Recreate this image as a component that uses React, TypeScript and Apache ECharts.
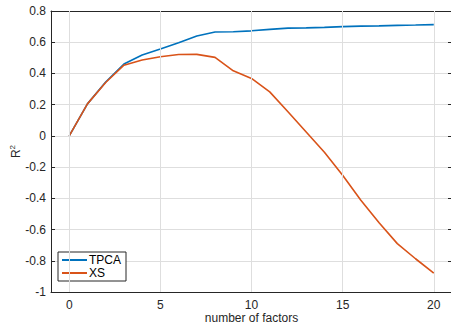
import React, { useEffect, useRef } from "react";
import * as echarts from "echarts";

const factors = [0, 1, 2, 3, 4, 5, 6, 7, 8, 9, 10, 11, 12, 13, 14, 15, 16, 17, 18, 19, 20];
const tpca = [0, 0.205, 0.345, 0.46, 0.518, 0.556, 0.597, 0.64, 0.665, 0.667, 0.673, 0.682, 0.69, 0.692, 0.695, 0.7, 0.703, 0.705, 0.708, 0.71, 0.713];
const xs = [0, 0.205, 0.342, 0.453, 0.486, 0.507, 0.521, 0.522, 0.503, 0.417, 0.368, 0.282, 0.155, 0.025, -0.105, -0.252, -0.412, -0.556, -0.69, -0.787, -0.879];
const xTicks = [0, 5, 10, 15, 20];
const seriesNames = ["TPCA", "XS"];

const FONT = "'Liberation Sans', Arial, Helvetica, sans-serif";
const AX = "#262626";
const GRID = "#dedede";

export default function App() {
  const ref = useRef<HTMLDivElement>(null);
  useEffect(() => {
    if (!ref.current) return;
    const chart = echarts.init(ref.current, undefined, { renderer: "svg" });
    const commonX = {
      type: "value" as const,
      min: -1,
      max: 21,
      axisLine: { show: true, onZero: false, lineStyle: { color: AX, width: 1 } },
      axisTick: { show: true, inside: true, length: 4, customValues: xTicks, lineStyle: { color: AX } },
      splitLine: { show: false },
    };
    const commonY = {
      type: "value" as const,
      min: -1,
      max: 0.8,
      interval: 0.2,
      axisLine: { show: true, onZero: false, lineStyle: { color: AX, width: 1 } },
      axisTick: { show: true, inside: true, length: 4, lineStyle: { color: AX } },
    };
    chart.setOption({
      animation: false,
      backgroundColor: "#ffffff",
      textStyle: { fontFamily: FONT },
      grid: { left: 51, top: 11, width: 401, height: 281, containLabel: false, outerBoundsMode: "none" },
      legend: {
        left: 58,
        top: 252,
        orient: "vertical",
        data: seriesNames,
        backgroundColor: "#ffffff",
        borderColor: AX,
        borderWidth: 1,
        borderRadius: 0,
        padding: [2, 5, 2, 4],
        itemGap: 1,
        itemWidth: 25,
        itemHeight: 2,
        icon: "rect",
        textStyle: { fontFamily: FONT, fontSize: 12, color: "#000", padding: [0, 0, 0, -3] },
      },
      xAxis: [
        {
          ...commonX,
          position: "bottom",
          name: "number of factors",
          nameLocation: "middle",
          nameGap: 19,
          nameMoveOverlap: false,
          nameTextStyle: { fontFamily: FONT, fontSize: 12, color: AX, verticalAlign: "top", lineHeight: 14 },
          axisLabel: { show: true, customValues: xTicks, margin: 7, fontFamily: FONT, fontSize: 12, color: AX },
        },
        {
          ...commonX,
          position: "top",
          axisLabel: { show: false },
        },
      ],
      yAxis: [
        {
          ...commonY,
          position: "left",
          name: "{r|R}{s|2}",
          nameLocation: "middle",
          nameGap: 29,
          nameMoveOverlap: false,
          nameRotate: 90,
          nameTextStyle: {
            fontFamily: FONT,
            color: AX,
            rich: {
              r: { fontSize: 12, fontFamily: FONT, color: AX, verticalAlign: "bottom", lineHeight: 14 },
              s: { fontSize: 8, fontFamily: FONT, color: AX, verticalAlign: "top", lineHeight: 14 },
            },
          },
          axisLabel: { show: true, margin: 5, fontFamily: FONT, fontSize: 12, color: AX },
          splitLine: { show: true, lineStyle: { color: GRID, width: 1 } },
        },
        {
          ...commonY,
          position: "right",
          axisLabel: { show: false },
          splitLine: { show: false },
        },
      ],
      series: [
        {
          type: "line",
          name: "__grid",
          data: [[0, 0]],
          symbol: "none",
          lineStyle: { opacity: 0 },
          silent: true,
          z: 1,
          markLine: {
            silent: true,
            symbol: "none",
            label: { show: false },
            lineStyle: { color: GRID, width: 1, type: "solid" },
            data: xTicks.map((v) => ({ xAxis: v })),
          },
        },
        {
          type: "line",
          name: seriesNames[0],
          data: factors.map((f, i) => [f, tpca[i]]),
          symbol: "none",
          z: 3,
          lineStyle: { color: "#0072BD", width: 1.6 },
          itemStyle: { color: "#0072BD" },
        },
        {
          type: "line",
          name: seriesNames[1],
          data: factors.map((f, i) => [f, xs[i]]),
          symbol: "none",
          z: 3,
          lineStyle: { color: "#D95319", width: 1.6 },
          itemStyle: { color: "#D95319" },
        },
      ],
    });
    return () => chart.dispose();
  }, []);
  return (
    <div
      ref={ref}
      style={{ position: "fixed", left: 0, top: 0, width: 451, height: 325 }}
    />
  );
}
